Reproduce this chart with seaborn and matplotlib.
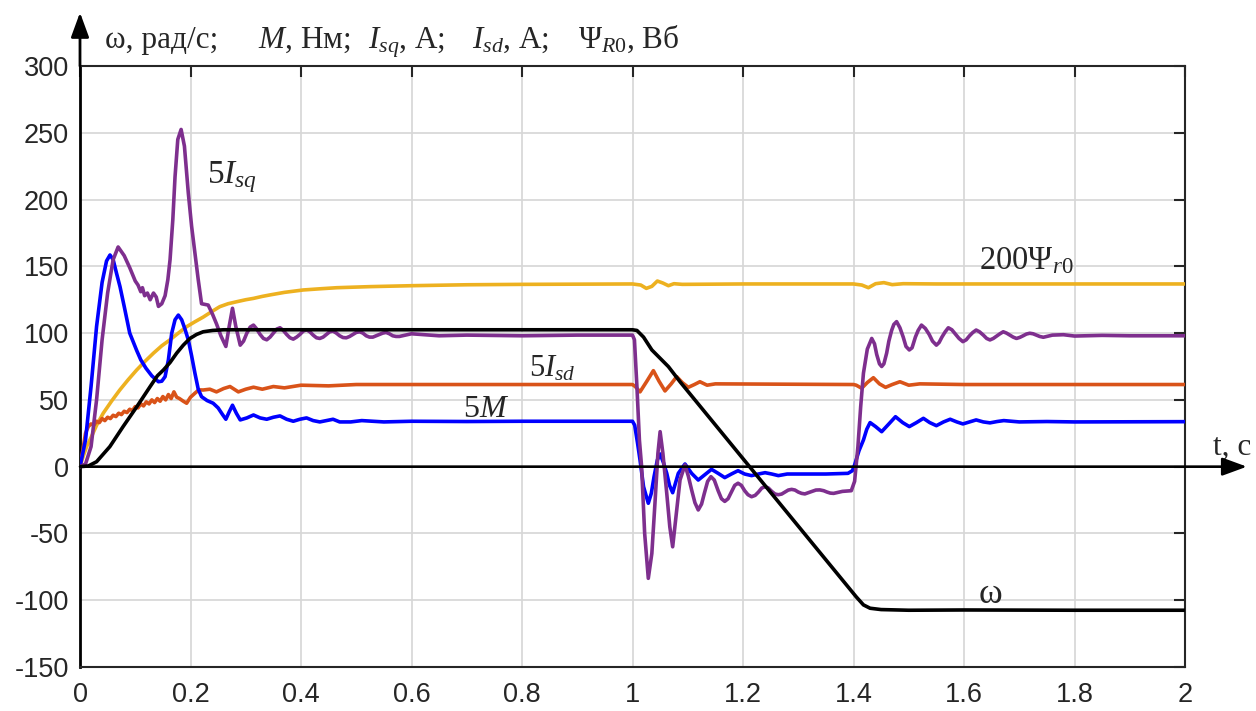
import numpy as np
import pandas as pd
import matplotlib
matplotlib.use("Agg")
import matplotlib.pyplot as plt
import seaborn as sns

# ---------------- data ----------------
t_omega = [0, 0.015, 0.03, 0.054, 0.078, 0.103, 0.127, 0.14, 0.151, 0.163, 0.175, 0.187, 0.199,
           0.211, 0.223, 0.24, 0.26, 0.3, 0.5, 0.8, 1.0, 1.008, 1.02, 1.035, 1.047, 1.065, 1.086,
           1.2, 1.3, 1.405, 1.418, 1.43, 1.45, 1.5, 1.6, 1.8, 2.0]
v_omega = [0, 0.5, 3.7, 15, 30, 45, 60, 68, 72.4, 78, 85, 91, 96,
           99, 101, 102, 102.5, 102.5, 102.5, 102.5, 102.5, 102, 97, 87.4, 82.4, 74.9, 63.6,
           6, -44.5, -97.5, -103.5, -106, -107, -107.5, -107.3, -107.5, -107.5]

t_isq = [0, 0.01, 0.02, 0.03, 0.04, 0.05, 0.06, 0.069, 0.08, 0.09, 0.1, 0.105, 0.11, 0.113, 0.117,
         0.122, 0.127, 0.133, 0.138, 0.142, 0.148, 0.154, 0.159, 0.163, 0.168, 0.172, 0.177, 0.183,
         0.189, 0.196, 0.202, 0.208, 0.214, 0.22, 0.232, 0.24, 0.247, 0.255, 0.264, 0.27, 0.276,
         0.282, 0.29, 0.296, 0.302, 0.308, 0.314, 0.32, 0.326, 0.332, 0.338, 0.344, 0.35, 0.356,
         0.362, 0.368, 0.374, 0.38, 0.386, 0.392, 0.398, 0.404, 0.41, 0.416, 0.422, 0.428,
         0.434, 0.44, 0.446, 0.452, 0.458, 0.464, 0.47, 0.476, 0.482, 0.488, 0.494, 0.5, 0.506,
         0.512, 0.518, 0.524, 0.53, 0.536, 0.542, 0.548, 0.554, 0.56, 0.566, 0.572, 0.578,
         0.6, 0.65, 0.7, 0.8, 0.9, 1.0,
         1.0035, 1.008, 1.0125, 1.0165, 1.022, 1.0286, 1.035, 1.041, 1.046, 1.05, 1.055, 1.062,
         1.0675, 1.0727, 1.078, 1.086, 1.095, 1.101, 1.107, 1.113, 1.119, 1.125, 1.13, 1.136,
         1.142, 1.148, 1.155, 1.161, 1.167, 1.173, 1.179, 1.185, 1.191, 1.197, 1.203, 1.209,
         1.2155, 1.222, 1.228, 1.234, 1.24, 1.246, 1.252, 1.258, 1.264, 1.27, 1.276, 1.282,
         1.288, 1.294, 1.3, 1.306, 1.312, 1.318, 1.325, 1.332, 1.339, 1.346, 1.352, 1.358,
         1.364, 1.38, 1.396, 1.402, 1.408, 1.413, 1.418, 1.425, 1.433, 1.438, 1.442, 1.447,
         1.451, 1.455, 1.46, 1.464, 1.469, 1.473, 1.478, 1.484, 1.49, 1.495, 1.501, 1.506,
         1.512, 1.517, 1.523, 1.53, 1.537, 1.543, 1.55, 1.555, 1.56, 1.566, 1.5716, 1.578,
         1.585, 1.591, 1.598, 1.604, 1.61, 1.616, 1.622, 1.628, 1.635, 1.641, 1.647, 1.653,
         1.66, 1.665, 1.671, 1.677, 1.683, 1.689, 1.695, 1.701, 1.707, 1.713, 1.719, 1.725,
         1.731, 1.737, 1.7436, 1.76, 1.78, 1.8, 1.85, 1.9, 2.0]
v_isq = [0, 2, 15, 50, 95, 130, 155, 164.5, 158, 149, 139, 136, 131, 134, 128,
         130, 125, 130, 127, 120, 122, 128, 140, 155, 185, 217, 245, 252.5,
         240, 205, 180, 160, 140, 122, 121, 114, 107, 98, 90, 105, 118.6,
         105, 91, 94, 100, 104.5, 106, 103, 99, 96, 95, 97, 100, 103,
         104, 102, 99, 96.5, 95.5, 97, 99, 101.5, 102.5, 101, 98.5, 96.5,
         96, 97, 99, 101, 101.5, 100, 98, 96.7, 96.5, 97.5, 99, 100.5, 101,
         100, 98, 97, 97, 98, 99, 100, 100.5, 99.5, 98, 97.5, 97.5,
         99.5, 98, 98.5, 98, 98.5, 98.5,
         95, 60, 20, 0, -50, -83.6, -65, -25, 10, 26.2, 10, -20,
         -45, -60, -40, -10, 1.3, -7, -17.4, -27, -32.4, -28, -20, -11,
         -7.5, -10, -18, -24, -26, -24, -19, -14, -12.4, -14, -18, -21,
         -22.5, -21.5, -19, -16, -15, -16, -18.5, -20.5, -21, -20.5, -19, -17.5,
         -17, -17.5, -19, -20, -20.4, -19.5, -18.5, -17.5, -17.4, -18, -19, -19.8,
         -20, -18.5, -18, -11, 15, 45, 70, 88, 96, 92, 84, 77,
         75, 77, 85, 94, 102, 106.5, 108.6, 104, 97, 90, 87.4, 89,
         97, 102, 106, 103.5, 99, 94, 91, 93, 97, 101, 104, 102.5,
         99, 96, 93.6, 95, 98, 100.5, 102.3, 101, 98.5, 96, 94.9, 96,
         98, 99.5, 101, 100, 98.5, 97, 96, 96.8, 98, 99.3, 99.9, 99.5,
         98.5, 97.5, 96.9, 98.5, 98.8, 97.8, 98.3, 98, 98]

t_m = [0, 0.01, 0.02, 0.03, 0.04, 0.048, 0.0543, 0.06, 0.066, 0.0724, 0.08, 0.09, 0.1026, 0.11,
       0.1194, 0.13, 0.142, 0.148, 0.154, 0.16, 0.166, 0.172, 0.178, 0.184, 0.19, 0.196, 0.202,
       0.208, 0.214, 0.22, 0.23, 0.241, 0.25, 0.258, 0.264, 0.27, 0.276, 0.283, 0.29, 0.302,
       0.314, 0.326, 0.338, 0.35, 0.362, 0.374, 0.386, 0.398, 0.41, 0.422, 0.434, 0.446, 0.458,
       0.47, 0.49, 0.51, 0.55, 0.6, 0.7, 0.8, 0.9, 1.0,
       1.004, 1.009, 1.0136, 1.02, 1.0286, 1.034, 1.039, 1.045, 1.05, 1.056, 1.062, 1.067,
       1.0727, 1.078, 1.0829, 1.095, 1.107, 1.119, 1.131, 1.143, 1.155, 1.167, 1.179, 1.191,
       1.203, 1.2155, 1.228, 1.24, 1.252, 1.264, 1.28, 1.3, 1.35, 1.39, 1.398, 1.402, 1.41,
       1.418, 1.424, 1.43, 1.44, 1.451, 1.464, 1.476, 1.489, 1.501, 1.514, 1.5265, 1.538, 1.55,
       1.563, 1.575, 1.587, 1.598, 1.61, 1.622, 1.635, 1.647, 1.66, 1.672, 1.7, 1.75, 1.8, 2.0]
v_m = [0, 20, 60, 105, 138, 154, 158.5, 155, 145, 134.8, 120, 100, 87, 80,
       73.7, 68, 63.6, 64, 67.4, 80, 99.9, 110, 113.5, 110, 103, 95, 83,
       70, 58, 52.4, 49.5, 47.5, 44, 39, 35.5, 41, 46, 40, 35, 36.5,
       38.7, 36.5, 35.5, 37, 38, 35.5, 34, 35.5, 36.5, 34.5, 33.5, 34.5, 35.5,
       33.5, 33.5, 34.5, 33.5, 34, 33.8, 34, 34, 34,
       31, 18, 5, -15, -27.4, -20, -7.5, 5, 9.5, 3, -5, -14,
       -19.5, -12, -5, 2, -5, -10, -6, -2, -5, -8.2, -5.5, -3,
       -5.5, -6.7, -5.5, -4.5, -5.5, -6.7, -5.5, -5.5, -5.5, -5, -3, 1.3, 12,
       20, 28, 33, 30, 26.2, 32, 37.4, 33, 30, 33, 36.2, 33, 30.7,
       33.5, 35.5, 33.5, 32, 33.5, 35, 33.5, 32.8, 33.8, 34.5, 33.5, 33.8, 33.5, 33.7]

t_isd = [0, 0.005, 0.01, 0.015, 0.02, 0.025, 0.03, 0.035, 0.04, 0.045, 0.05, 0.055, 0.06, 0.065,
         0.07, 0.075, 0.08, 0.085, 0.09, 0.095, 0.1, 0.105, 0.11, 0.115, 0.12, 0.125, 0.13, 0.135,
         0.14, 0.145, 0.15, 0.155, 0.16, 0.165, 0.17, 0.175, 0.18, 0.187, 0.193, 0.2, 0.208, 0.215,
         0.223, 0.235, 0.247, 0.26, 0.2715, 0.2866, 0.3, 0.314, 0.33, 0.35, 0.37, 0.4, 0.45, 0.5,
         0.6, 1.0, 1.005, 1.0136, 1.026, 1.0378, 1.048, 1.0588, 1.07, 1.08, 1.09, 1.101, 1.112,
         1.122, 1.135, 1.15, 1.4, 1.405, 1.4148, 1.425, 1.436, 1.447, 1.458, 1.47, 1.484, 1.5,
         1.52, 1.6, 2.0]
v_isd = [0, 12, 25, 30, 32, 31, 34, 33, 36, 34.5, 37, 36, 38.5, 37.5,
         40, 39, 41.5, 40.5, 43, 42, 45, 44, 47, 45.5, 48.5, 47, 50, 48,
         51, 49, 52.5, 50, 54, 51, 56, 52, 51, 49, 47.5, 52, 55, 57.5,
         57.4, 58, 56, 58.5, 60, 56, 58, 59.5, 58, 60, 59, 61, 60.5, 61.5,
         61.5, 61.5, 60, 56, 64, 71.9, 64, 56.7, 62, 67.4, 63, 59.4, 61.5,
         63.6, 61, 62, 61.5, 61, 58.7, 63, 66.6, 62, 59.4, 61.5, 63.6, 61,
         62, 61.5, 61.5]

t_psi = [0, 0.006, 0.012, 0.018, 0.03, 0.042, 0.057, 0.072, 0.087, 0.1026, 0.118, 0.133, 0.148,
         0.163, 0.178, 0.193, 0.208, 0.223, 0.238, 0.253, 0.268, 0.2836, 0.3, 0.314, 0.33, 0.344,
         0.37, 0.404, 0.435, 0.465, 0.525, 0.6, 0.7, 0.8, 1.0, 1.015, 1.025, 1.035, 1.045, 1.055,
         1.065, 1.075, 1.09, 1.2, 1.4, 1.415, 1.427, 1.44, 1.455, 1.47, 1.49, 1.55, 2.0]
v_psi = [0, 8, 15, 20, 31, 40, 49, 57.4, 65, 72.4, 79, 85, 90.5,
         95, 100, 104.8, 108.5, 112, 116, 119.8, 122, 123.5, 125, 126, 127.5, 128.6,
         130.5, 132.3, 133.2, 134, 134.8, 135.5, 136.2, 136.5, 136.8, 136, 133.5, 135, 139, 137.5,
         135.5, 137, 136.5, 136.8, 136.8, 136, 134, 137, 137.8, 136.3, 137, 136.8, 136.8]

x_ticks = [0, 0.2, 0.4, 0.6, 0.8, 1.0, 1.2, 1.4, 1.6, 1.8, 2.0]
x_tick_labels = ["0", "0.2", "0.4", "0.6", "0.8", "1", "1.2", "1.4", "1.6", "1.8", "2"]
y_ticks = [-150, -100, -50, 0, 50, 100, 150, 200, 250, 300]
y_tick_labels = ["-150", "-100", "-50", "0", "50", "100", "150", "200", "250", "300"]

title_parts = ["ω, рад/с;", r"$M$, Нм;", r"$I_{sq}$, А;", r"$I_{sd}$, А;", r"Ψ$_{R0}$, Вб"]
title_x_px = [105, 258, 368, 472, 578]

# ---------------- styling ----------------
sns.set_style("white")
plt.rcParams["font.family"] = ["Liberation Sans", "DejaVu Sans"]
plt.rcParams["mathtext.fontset"] = "custom"
plt.rcParams["mathtext.rm"] = "Liberation Serif"
plt.rcParams["mathtext.it"] = "Liberation Serif:italic"
plt.rcParams["mathtext.bf"] = "Liberation Serif:bold"

SERIF = ["Liberation Serif", "DejaVu Serif"]
C_OMEGA = "#000000"
C_ISQ = "#7E2F8E"
C_M = "#0000FF"
C_ISD = "#D95319"
C_PSI = "#EDB120"
DARK = "#262626"

fig = plt.figure(figsize=(12.56, 7.11), dpi=100)
ax = fig.add_axes([80 / 1256, 1 - 667 / 711, (1185 - 80) / 1256, (667 - 66) / 711])

LW = 2.6
series = [
    (t_psi, v_psi, C_PSI),
    (t_isd, v_isd, C_ISD),
    (t_m, v_m, C_M),
    (t_isq, v_isq, C_ISQ),
    (t_omega, v_omega, C_OMEGA),
]
for tt, vv, col in series:
    df = pd.DataFrame({"t": tt, "v": vv})
    sns.lineplot(data=df, x="t", y="v", ax=ax, color=col, linewidth=LW,
                 estimator=None, sort=False, zorder=3)

ax.set_xlim(0, 2)
ax.set_ylim(-150, 300)
ax.set_xticks(x_ticks)
ax.set_xticklabels(x_tick_labels)
ax.set_yticks(y_ticks)
ax.set_yticklabels(y_tick_labels)
ax.set_xlabel("")
ax.set_ylabel("")

ax.grid(True, color="#d6d6d6", linewidth=1.2, zorder=0)
ax.set_axisbelow(True)
ax.tick_params(axis="both", which="both", direction="in", length=8, width=1.5,
               colors=DARK, labelsize=19.5, top=True, right=True)
ax.tick_params(axis="x", pad=11)
ax.tick_params(axis="y", pad=8)
for side in ["top", "right", "bottom", "left"]:
    ax.spines[side].set_visible(True)
    ax.spines[side].set_color(DARK)
    ax.spines[side].set_linewidth(1.5)
ax.spines["left"].set_color("black")
ax.spines["left"].set_linewidth(2)

# zero axis with arrow (t-axis) and y-axis arrow
ax.annotate("", xy=(2.112, 0), xytext=(0, 0), xycoords="data",
            arrowprops=dict(arrowstyle="-|>,head_length=0.6,head_width=0.22",
                            color="black", lw=1.9, mutation_scale=25,
                            shrinkA=0, shrinkB=0),
            annotation_clip=False, zorder=4)
ax.annotate("", xy=(0, 340), xytext=(0, 300), xycoords="data",
            arrowprops=dict(arrowstyle="-|>,head_length=0.6,head_width=0.22",
                            color="black", lw=2, mutation_scale=25,
                            shrinkA=0, shrinkB=0),
            annotation_clip=False, zorder=4)

# labels on curves
ax.text(0.23, 212, r"$5I_{sq}$", fontsize=24, family=SERIF, ha="left", va="baseline")
ax.text(0.812, 67.4, r"$5I_{sd}$", fontsize=22, family=SERIF, ha="left", va="baseline")
ax.text(0.693, 37.4, r"$5M$", fontsize=23, family=SERIF, ha="left", va="baseline")
ax.text(1.627, 147.8, r"200Ψ$_{r0}$", fontsize=23.5, family=SERIF, ha="left", va="baseline")
ax.text(1.627, -101.8, "ω", fontsize=26, family=SERIF, ha="left", va="baseline")
ax.text(2.05, 8.7, "t, c", fontsize=22.5, family=SERIF, ha="left", va="baseline", clip_on=False)

for part, xp in zip(title_parts, title_x_px):
    fig.text(xp / 1256, 1 - 48 / 711, part, fontsize=22.5, family=SERIF,
             ha="left", va="baseline")

fig.savefig("out.png", dpi=100)
